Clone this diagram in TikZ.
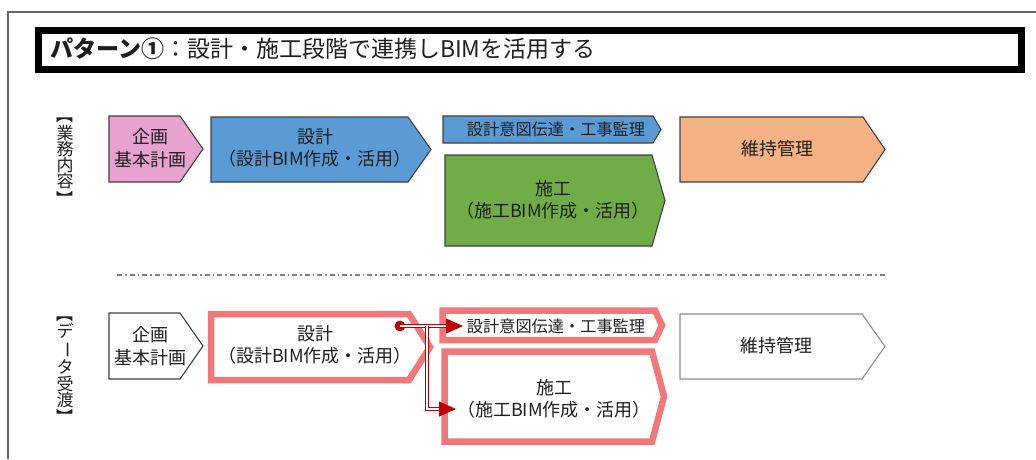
\documentclass[tikz,border=0pt]{standalone}
\usepackage{fontspec}
\setmainfont{Noto Sans CJK JP}
\usetikzlibrary{arrows.meta}
\definecolor{pinkbox}{RGB}{232,162,208}
\definecolor{bluebox}{RGB}{91,155,213}
\definecolor{greenbox}{RGB}{112,173,71}
\definecolor{salmonbox}{RGB}{244,177,131}
\definecolor{redborder}{RGB}{240,120,120}
\definecolor{arrowred}{RGB}{192,0,0}
\definecolor{txt}{RGB}{30,30,30}
\definecolor{edgedark}{RGB}{64,64,64}
\definecolor{edgelight}{RGB}{140,140,140}
\definecolor{framegray}{RGB}{100,100,100}
\newcommand{\pentbox}[6]{\draw[#1] (#2,#3) -- (#4,#3) -- (#5,{(#3+#6)/2}) -- (#4,#6) -- (#2,#6) -- cycle;}
\begin{document}
\begin{tikzpicture}[x=1pt,y=-1pt,
  lbl/.style={align=center, text=txt, inner sep=0pt, font=\fontsize{18}{22.5}\selectfont},
  smalllbl/.style={align=center, text=txt, inner sep=0pt, font=\fontsize{16.2}{20}\selectfont},
  vlabel/.style={align=center, text=txt, inner sep=0pt, font=\fontsize{17}{16.2}\selectfont},
  filledbox/.style={fill=#1, draw=edgedark, line width=1.1pt, line join=miter},
  plainbox/.style={fill=white, draw=#1, line width=1.1pt, line join=miter},
  redbox/.style={fill=white, draw=redborder, line width=6.5pt, line join=miter},
  conn/.style={draw=arrowred, double=white, double distance=1.3pt, line width=1pt,
    -{Triangle[length=17pt,width=15pt]}},
  sepline/.style={draw=gray, line width=1.4pt, dash pattern=on 5pt off 3pt on 1.5pt off 3pt}
]
\useasboundingbox (0,0) rectangle (1036,459);
% outer frame
\draw[framegray, line width=1.2pt] (8,459) -- (8,12) -- (1036,12);
% title
\node[draw=black, line width=7pt, minimum width=983pt, minimum height=39pt, inner sep=0pt] (titlebox) at (530,50) {};
\node[anchor=west, text=txt, inner sep=0pt, font=\fontsize{23}{26}\selectfont] (title) at (50,49)
  {\textbf{パターン①}：設計・施工段階で連携しBIMを活用する};

% ---------- row 1 ----------
\node[vlabel] (lab1) at (65,157) {\rotatebox[origin=c]{-90}{【}\\業\\務\\内\\容\\\rotatebox[origin=c]{-90}{】}};
\pentbox{filledbox=pinkbox}{109}{116}{180}{203}{182}
\node[lbl] (kikaku1) at (150,148) {企画\\基本計画};
\pentbox{filledbox=bluebox}{211}{117}{408}{431}{182}
\node[lbl] (sekkei1) at (315,148) {設計\\（設計BIM作成・活用）};
\pentbox{filledbox=bluebox}{443}{116}{653}{661}{143}
\node[smalllbl] (ito1) at (556,129.5) {設計意図伝達・工事監理};
\pentbox{filledbox=greenbox}{445}{155}{652}{665}{246}
\node[lbl] (seko1) at (553,200) {施工\\（施工BIM作成・活用）};
\pentbox{filledbox=salmonbox}{680}{117}{863}{885}{182}
\node[lbl] (iji1) at (777,149) {維持管理};

% separator
\draw[sepline] (117,275) -- (885,275);

% ---------- row 2 ----------
\node[vlabel] (lab2) at (65,365.5) {\rotatebox[origin=c]{-90}{【}\\デ\\\rotatebox[origin=c]{-90}{ー}\\タ\\受\\渡\\\rotatebox[origin=c]{-90}{】}};
\pentbox{plainbox=edgedark}{109}{313}{180}{203}{379}
\node[lbl] (kikaku2) at (150,346) {企画\\基本計画};
\pentbox{redbox}{211}{314}{409}{430}{380}
\node[lbl] (sekkei2) at (315,345) {設計\\（設計BIM作成・活用）};
\pentbox{redbox}{442.5}{310.5}{655}{662}{340}
\node[smalllbl] (ito2) at (556,326) {設計意図伝達・工事監理};
\pentbox{redbox}{444.5}{351.5}{652}{664}{441.5}
\node[lbl] (seko2) at (554,399) {施工\\（施工BIM作成・活用）};
\pentbox{plainbox=edgelight}{680}{314}{862}{885}{379}
\node[lbl] (iji2) at (776,346) {維持管理};

% connectors
\node[circle, fill=arrowred, inner sep=0pt, minimum size=11pt] (dot) at (400,326) {};
\coordinate (br) at (427,326);
\coordinate (tip1) at (463,326);
\coordinate (tip2) at (456,409);
\draw[conn] (dot.center) -- (tip1);
\draw[conn] (br) |- (tip2);
\end{tikzpicture}
\end{document}
